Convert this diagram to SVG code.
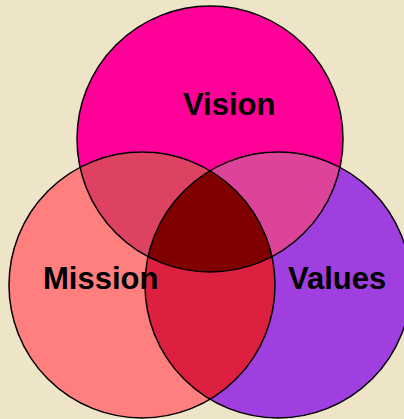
<svg xmlns="http://www.w3.org/2000/svg" width="404" height="419" viewBox="0 0 404 419">
  <style>
    .outline { fill: none; stroke: #000; stroke-width: 1.5; }
    .label { font-family: "Liberation Sans", Arial, sans-serif; font-weight: bold; font-size: 31px; fill: #000; }
  </style>
  <defs>
    <clipPath id="clipVision"><circle cx="210" cy="139" r="133"/></clipPath>
    <clipPath id="clipMission"><circle cx="142" cy="285" r="133"/></clipPath>
  </defs>
  <rect width="404" height="419" fill="#EEE4C8"/>
  <g id="fills">
    <circle cx="210" cy="139" r="133" fill="#FF0099"/>
    <circle cx="142" cy="285" r="133" fill="#FF7F7F"/>
    <circle cx="278" cy="285" r="133" fill="#9F3FDF"/>
    <circle cx="142" cy="285" r="133" fill="#DD4262" clip-path="url(#clipVision)"/>
    <circle cx="278" cy="285" r="133" fill="#DD4499" clip-path="url(#clipVision)"/>
    <circle cx="278" cy="285" r="133" fill="#DD1F40" clip-path="url(#clipMission)"/>
    <g clip-path="url(#clipVision)">
      <circle cx="278" cy="285" r="133" fill="#800000" clip-path="url(#clipMission)"/>
    </g>
  </g>
  <g id="vision">
    <circle class="outline" cx="210" cy="139" r="133"/>
    <text class="label" x="183" y="115">Vision</text>
  </g>
  <g id="mission">
    <circle class="outline" cx="142" cy="285" r="133"/>
    <text class="label" x="43" y="289">Mission</text>
  </g>
  <g id="values">
    <circle class="outline" cx="278" cy="285" r="133"/>
    <text class="label" x="288" y="289">Values</text>
  </g>
  <g id="connectors"/>
</svg>
